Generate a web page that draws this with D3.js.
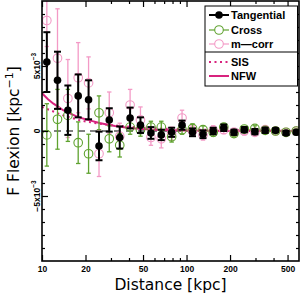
<!DOCTYPE html>
<html><head><meta charset="utf-8">
<script src="https://cdn.jsdelivr.net/npm/d3@7"></script>
<style>body{margin:0;background:#fff}svg{display:block}</style>
</head><body><svg id="c" width="304" height="294"></svg>
<script>
// distances in kpc
const distance = [10.8,12.8,15.1,17.8,21.0,24.8,29.2,34.5,40.7,48.0,56.7,66.9,78.9,93.1,110,130,153,181,213,251,297,350,413,488,575];
// flexion values in units of 1e-3 kpc^-1
const tangential    = [5.3,3.9,1.6,2.7,2.4,-1.15,0.85,-0.5,1.0,0.45,-0.15,-0.3,-0.1,0.45,-0.1,-0.25,0.0,0.25,-0.1,0.1,-0.05,0.05,0.05,-0.15,-0.1];
const tangentialErr = [2.3,2.2,1.9,1.65,1.5,1.1,0.9,0.85,0.8,0.6,0.45,0.4,0.35,0.35,0.3,0.3,0.25,0.25,0.2,0.2,0.2,0.2,0.15,0.15,0.15];
const cross    = [-0.3,0.9,1.2,-0.9,-1.75,1.4,-0.6,-1.1,0.3,0.1,0.3,0.3,-0.45,0.1,0.2,0.1,-0.1,0.3,-0.2,0.15,0.2,0.05,0.0,-0.1,0.0];
const crossErr = [2.4,2.3,2.0,1.6,1.5,1.3,1.0,0.9,0.55,0.5,0.45,0.45,0.4,0.35,0.35,0.3,0.3,0.25,0.25,0.2,0.2,0.2,0.2,0.15,0.15];
const mcorr    = [8.5,5.6,2.5,4.1,3.7,-1.75,1.4,-0.4,2.0,0.85,-0.5,-0.6,-0.2,1.0,0.0,-0.3,0.05,0.1,-0.1,0.0,-0.1,0.1,0.0,-0.1,0.0];
const mcorrErr = [2.0,3.8,3.0,2.7,2.0,1.75,1.6,1.0,1.2,1.0,0.6,0.7,0.5,0.6,0.4,0.4,0.35,0.3,0.3,0.3,0.25,0.25,0.2,0.2,0.2];
// model curves
const sisDist = [10,12,14,16,18,20,25,30,40,50,70,100,150,200,300,600];
const sisVal  = [1.85,1.5,1.2,1.02,0.85,0.73,0.56,0.45,0.33,0.26,0.18,0.13,0.085,0.065,0.043,0.022];
const nfwDist = [10,11,12,13,14,16,18,20,22,25,28,32,36,40,50,60,80,100,150,200,300,600];
const nfwVal  = [2.9,2.45,2.1,1.85,1.6,1.3,1.05,0.9,0.78,0.62,0.5,0.38,0.3,0.24,0.15,0.1,0.055,0.035,0.015,0.008,0.003,0.001];
// ticks
const xMajorTicks = [10,20,50,100,200,500];
const xMinorTicks = [30,40,60,70,80,90,300,400];
const yMajorTicks = [-5,0,5];
const yMinorTicks = [-9,-8,-7,-6,-4,-3,-2,-1,1,2,3,4,6,7,8,9];
const legendLabels = ["Tangential","Cross","m\u2014corr","SIS","NFW"];

const C_BLACK="#000", C_GREEN="#5fa22f", C_PINK="#f39ac6", C_MAG="#d8237e";
const L=42, R=299, T=1, B=261;
const svg=d3.select("#c");
const x=d3.scaleLog().domain([10,600]).range([L,R]);
const y=d3.scaleLinear().domain([-10,10]).range([B,T]);

svg.append("defs").append("clipPath").attr("id","clip")
  .append("rect").attr("x",L).attr("y",T).attr("width",R-L).attr("height",B-T);
const plot=svg.append("g").attr("clip-path","url(#clip)");

// zero line
plot.append("line").attr("x1",L).attr("x2",R).attr("y1",y(0)).attr("y2",y(0))
  .attr("stroke","#000").attr("stroke-width",1).attr("stroke-dasharray","7,5");

const line=d3.line().x(d=>x(d[0])).y(d=>y(d[1]));
plot.append("path").datum(sisDist.map((d,i)=>[d,sisVal[i]])).attr("d",line)
  .attr("fill","none").attr("stroke",C_MAG).attr("stroke-width",2).attr("stroke-dasharray","2,3.5");
plot.append("path").datum(nfwDist.map((d,i)=>[d,nfwVal[i]])).attr("d",line)
  .attr("fill","none").attr("stroke",C_MAG).attr("stroke-width",2);

function series(vals,errs,color,filled,bw,cap){
  const g=plot.append("g");
  const data=distance.map((d,i)=>({d,v:vals[i],e:errs[i]}));
  g.selectAll("line.eb").data(data).join("line").attr("class","eb")
    .attr("x1",d=>x(d.d)).attr("x2",d=>x(d.d))
    .attr("y1",d=>y(d.v-d.e)).attr("y2",d=>y(d.v+d.e))
    .attr("stroke",color).attr("stroke-width",bw);
  ["lo","hi"].forEach(k=>{
    g.selectAll("line.c"+k).data(data).join("line").attr("class","c"+k)
      .attr("x1",d=>x(d.d)-cap).attr("x2",d=>x(d.d)+cap)
      .attr("y1",d=>y(k==="lo"?d.v-d.e:d.v+d.e)).attr("y2",d=>y(k==="lo"?d.v-d.e:d.v+d.e))
      .attr("stroke",color).attr("stroke-width",bw);
  });
  g.selectAll("circle").data(data).join("circle")
    .attr("cx",d=>x(d.d)).attr("cy",d=>y(d.v))
    .attr("r",filled?3.8:4.3)
    .attr("fill",filled?color:"none").attr("stroke",color).attr("stroke-width",filled?0:1.1);
}
series(mcorr,mcorrErr,C_PINK,false,1.3,2.2);
series(cross,crossErr,C_GREEN,false,1.3,2.2);
series(tangential,tangentialErr,C_BLACK,true,2,3.5);

// frame
svg.append("rect").attr("x",L).attr("y",T).attr("width",R-L).attr("height",B-T)
  .attr("fill","none").attr("stroke","#000").attr("stroke-width",1.6);

function tickAxis(gen,tr){
  const g=svg.append("g").attr("transform",tr).call(gen);
  g.select(".domain").remove();
  g.selectAll(".tick line").attr("stroke","#000").attr("stroke-width",1.2);
  return g;
}
// x axes
const xb=tickAxis(d3.axisBottom(x).tickValues(xMajorTicks).tickSize(-6).tickPadding(5).tickFormat(d3.format("d")),`translate(0,${B})`);
xb.selectAll("text").attr("font-family","Liberation Sans, Arial, sans-serif").attr("font-weight","bold").attr("font-size","8.5px").attr("fill","#000");
tickAxis(d3.axisBottom(x).tickValues(xMinorTicks).tickSize(-3).tickFormat(""),`translate(0,${B})`);
tickAxis(d3.axisTop(x).tickValues(xMajorTicks).tickSize(-6).tickFormat(""),`translate(0,${T})`);
tickAxis(d3.axisTop(x).tickValues(xMinorTicks).tickSize(-3).tickFormat(""),`translate(0,${T})`);
// y axes
tickAxis(d3.axisLeft(y).tickValues(yMajorTicks).tickSize(-6).tickFormat(""),`translate(${L},0)`);
tickAxis(d3.axisLeft(y).tickValues(yMinorTicks).tickSize(-3).tickFormat(""),`translate(${L},0)`);
tickAxis(d3.axisRight(y).tickValues(yMajorTicks).tickSize(-6).tickFormat(""),`translate(${R},0)`);
tickAxis(d3.axisRight(y).tickValues(yMinorTicks).tickSize(-3).tickFormat(""),`translate(${R},0)`);

// y tick labels (rotated)
yMajorTicks.forEach(v=>{
  const t=svg.append("text").attr("transform",`translate(39.5,${y(v)}) rotate(-90)`)
    .attr("text-anchor","middle").attr("font-family","Liberation Sans, Arial, sans-serif")
    .attr("font-weight","bold").attr("font-size","8.5px");
  if(v===0){t.text("0");}
  else{
    t.append("tspan").text((v<0?"\u2212":"")+Math.abs(v)+"x10");
    t.append("tspan").attr("dy","-3.5").attr("font-size","6.5px").text("\u22123");
  }
});

// axis titles
svg.append("text").attr("x",(L+R)/2).attr("y",289.5).attr("text-anchor","middle")
  .attr("font-family","DejaVu Sans, sans-serif").attr("font-size","15.5px").text("Distance [kpc]");
const yt=svg.append("text").attr("transform",`translate(18.5,${(T+B)/2}) rotate(-90)`).attr("text-anchor","middle")
  .attr("font-family","DejaVu Sans, sans-serif").attr("font-size","15.5px");
yt.append("tspan").text("F Flexion [kpc");
yt.append("tspan").attr("dy","-6").attr("font-size","11px").text("\u22121");
yt.append("tspan").attr("dy","6").text("]");

// legend
const lg=svg.append("g");
lg.append("rect").attr("x",205).attr("y",6).attr("width",92.5).attr("height",80)
  .attr("fill","#fff").attr("stroke","#000").attr("stroke-width",1);
lg.append("line").attr("x1",205).attr("x2",297.5).attr("y1",52).attr("y2",52).attr("stroke","#000").attr("stroke-width",1);
const ly=[15,30,44,62,76];
const lstyle=[
  {c:C_BLACK,w:2,dash:null,mk:"fill"},
  {c:C_GREEN,w:1.2,dash:null,mk:"open"},
  {c:C_PINK,w:1.2,dash:null,mk:"open"},
  {c:C_MAG,w:2,dash:"2,3.5",mk:null},
  {c:C_MAG,w:2,dash:null,mk:null}];
legendLabels.forEach((lab,i)=>{
  const s=lstyle[i];
  lg.append("line").attr("x1",209).attr("x2",229).attr("y1",ly[i]).attr("y2",ly[i])
    .attr("stroke",s.c).attr("stroke-width",s.w).attr("stroke-dasharray",s.dash);
  if(s.mk) lg.append("circle").attr("cx",219).attr("cy",ly[i]).attr("r",s.mk==="fill"?3.8:4.3)
    .attr("fill",s.mk==="fill"?s.c:"#fff").attr("stroke",s.c).attr("stroke-width",s.mk==="fill"?0:1.1);
  lg.append("text").attr("x",231).attr("y",ly[i]+4).attr("font-family","Liberation Sans, Arial, sans-serif")
    .attr("font-weight","bold").attr("font-size","11px").text(lab);
});
</script></body></html>
